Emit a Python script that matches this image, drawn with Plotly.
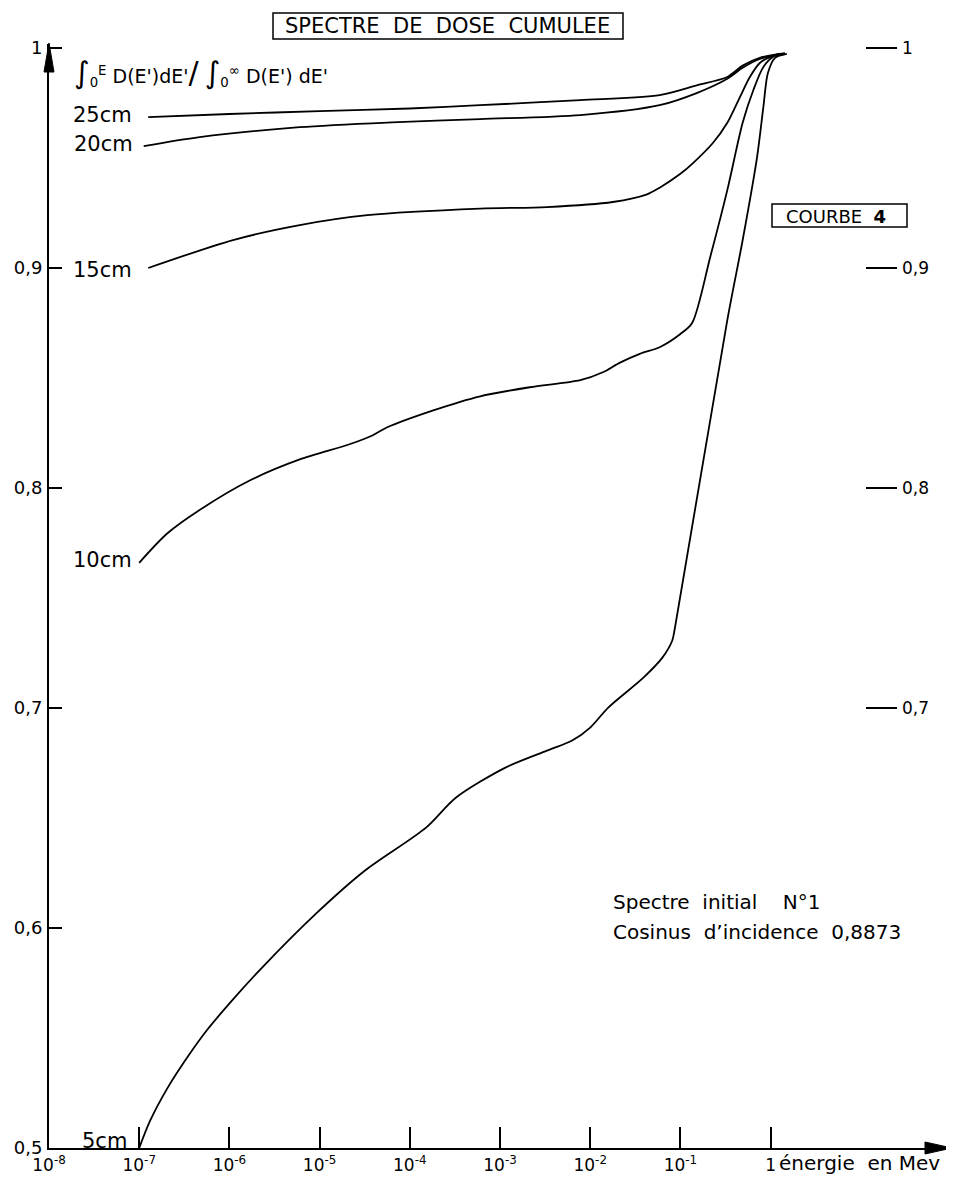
import numpy as np
import plotly.graph_objects as go

# ---- data (log10 of energy in MeV, cumulative dose fraction) ----
logE_25 = [-6.90, -6.0, -5.0, -4.0, -3.22, -2.11, -1.23, -0.82, -0.48, -0.31, -0.12, 0.05, 0.16]
val_25 = [0.9686, 0.9700, 0.9713, 0.9725, 0.9740, 0.9763, 0.9786, 0.9830, 0.9868, 0.9920, 0.9955, 0.9970, 0.9975]

logE_20 = [-6.95, -6.33, -5.22, -4.20, -3.22, -2.11, -1.23, -0.82, -0.48, -0.31, -0.12, 0.05, 0.16]
val_20 = [0.9554, 0.9595, 0.9640, 0.9662, 0.9677, 0.9695, 0.9740, 0.9795, 0.9860, 0.9910, 0.9950, 0.9968, 0.9975]

logE_15 = [-6.90, -5.96, -5.22, -4.47, -3.22, -2.48, -1.75, -1.37, -1.23, -1.0, -0.86, -0.64, -0.48,
           -0.34, -0.23, -0.12, 0.0, 0.16]
val_15 = [0.9000, 0.9127, 0.9195, 0.9240, 0.9270, 0.9277, 0.9300, 0.9335, 0.9365, 0.9428, 0.9477,
          0.9568, 0.9660, 0.9777, 0.9868, 0.9932, 0.9960, 0.9973]

logE_10 = [-7.0, -6.69, -6.33, -5.77, -5.22, -4.66, -4.41, -4.25, -3.74, -3.22, -2.67, -2.11, -1.86,
           -1.67, -1.45, -1.23, -1.0, -0.87, -0.67, -0.48, -0.31, -0.19, -0.08, 0.03, 0.16]
val_10 = [0.766, 0.7793, 0.790, 0.8035, 0.813, 0.820, 0.824, 0.8276, 0.8353, 0.8417, 0.8458, 0.849,
          0.8526, 0.857, 0.861, 0.864, 0.870, 0.875, 0.9049, 0.9354, 0.966, 0.981, 0.9914, 0.996, 0.9973]

logE_5 = [-7.0, -6.88, -6.69, -6.47, -6.25, -5.95, -5.64, -5.04, -4.50, -3.82, -3.49, -2.94, -2.48, -2.20,
          -2.0, -1.80, -1.41, -1.20, -1.09, -1.06, -0.48, -0.31, -0.15, -0.08, -0.03, 0.05, 0.18]
val_5 = [0.500, 0.5123, 0.527, 0.541, 0.5535, 0.568, 0.5819, 0.6065, 0.626, 0.6456, 0.6592, 0.6729, 0.6806,
         0.6852, 0.6911, 0.7002, 0.7138, 0.7229, 0.7307, 0.7366, 0.8763, 0.9126, 0.9504, 0.9732, 0.9886,
         0.9955, 0.9973]

curve_names = ["25cm", "20cm", "15cm", "10cm", "5cm"]
curve_logE = [logE_25, logE_20, logE_15, logE_10, logE_5]
curve_vals = [val_25, val_20, val_15, val_10, val_5]
label_yshift = [2, 2, -2, 3, 7]
label_xshift = [-14, -9, -14, -5, -10]

x_tick_exp = [-8, -7, -6, -5, -4, -3, -2, -1, 0]
x_tick_text = ["10<sup>-8</sup>", "10<sup>-7</sup>", "10<sup>-6</sup>", "10<sup>-5</sup>",
               "10<sup>-4</sup>", "10<sup>-3</sup>", "10<sup>-2</sup>", "10<sup>-1</sup>", "1"]
y_tick_vals = [0.5, 0.6, 0.7, 0.8, 0.9, 1.0]
y_tick_text = ["0,5", "0,6", "0,7", "0,8", "0,9", "1"]
y2_tick_vals = [0.7, 0.8, 0.9, 1.0]
y2_tick_text = ["0,7", "0,8", "0,9", "1"]

FONT = "DejaVu Sans"
OFF = 8  # default page body margin
W, H = 954 - OFF, 1181 - OFF
ML, MR, MT, MB = 49 - OFF, 2, 44 - OFF, 33
PW, PH = W - ML - MR, H - MT - MB


def px(xp):
    return (xp - 49) / PW


def py(yp):
    return (1148 - yp) / PH


fig = go.Figure()

for name, le, v, ys, xs in zip(curve_names, curve_logE, curve_vals, label_yshift, label_xshift):
    fig.add_trace(go.Scatter(
        x=10 ** np.array(le), y=v, mode="lines", name=name,
        line=dict(color="black", width=1.8, shape="spline", smoothing=0.8),
        showlegend=False, hoverinfo="skip"))
    fig.add_annotation(x=le[0], y=v[0], xref="x", yref="y", text=name, showarrow=False,
                       xanchor="right", yanchor="middle", xshift=xs, yshift=ys,
                       font=dict(family=FONT, size=21, color="black"))

# invisible trace for the right-hand scale
fig.add_trace(go.Scatter(x=[1e-8], y=[0.5], yaxis="y2", mode="markers",
                         marker=dict(opacity=0), showlegend=False, hoverinfo="skip"))

y_range = [0.5, 0.5 + PH / 2200]
x_range = [-8, -8 + PW / 90.2]

fig.update_layout(
    width=W, height=H,
    margin=dict(l=ML, r=MR, t=MT, b=MB),
    paper_bgcolor="white", plot_bgcolor="white",
    font=dict(family=FONT, color="black"),
    xaxis=dict(type="log", range=x_range, showgrid=False, zeroline=False,
               showline=True, linecolor="black", linewidth=2,
               ticks="inside", ticklen=21, tickwidth=2, tickcolor="black",
               tickvals=[10.0 ** e for e in x_tick_exp], ticktext=x_tick_text,
               tickfont=dict(family=FONT, size=17), ticklabelstandoff=1, automargin=False),
    yaxis=dict(range=y_range, showgrid=False, zeroline=False,
               showline=True, linecolor="black", linewidth=2,
               ticks="inside", ticklen=13, tickwidth=2, tickcolor="black",
               tickvals=y_tick_vals, ticktext=y_tick_text,
               tickfont=dict(family=FONT, size=18), ticklabelstandoff=1, automargin=False),
    yaxis2=dict(range=y_range, overlaying="y", side="right", anchor="free",
                position=px(897), showgrid=False, zeroline=False, showline=False,
                ticks="inside", ticklen=31, tickwidth=1.5, tickcolor="black",
                tickvals=y2_tick_vals, ticktext=y2_tick_text,
                tickfont=dict(family=FONT, size=17), ticklabelstandoff=4, automargin=False),
)

shapes = []
# axis arrowheads
shapes.append(dict(type="path", xref="paper", yref="paper",
                   path=f"M {px(952)} {py(1148)} L {px(925)} {py(1142)} L {px(925)} {py(1154)} Z",
                   fillcolor="black", line=dict(color="black", width=1)))
shapes.append(dict(type="path", xref="paper", yref="paper",
                   path=f"M {px(49)} {py(43)} L {px(44)} {py(72)} L {px(54)} {py(72)} Z",
                   fillcolor="black", line=dict(color="black", width=1)))
# title box
shapes.append(dict(type="rect", xref="paper", yref="paper",
                   x0=px(273), x1=px(623), y0=py(39), y1=py(13),
                   line=dict(color="black", width=1.5), fillcolor="rgba(0,0,0,0)"))
# COURBE 4 box
shapes.append(dict(type="rect", xref="paper", yref="paper",
                   x0=px(772), x1=px(907), y0=py(227), y1=py(204),
                   line=dict(color="black", width=1.5), fillcolor="rgba(0,0,0,0)"))
fig.update_layout(shapes=shapes)

ann = [
    dict(x=px(447), y=py(26), text="SPECTRE  DE  DOSE  CUMULEE", size=21, xanchor="center"),
    dict(x=px(836), y=py(216), text="COURBE  <b>4</b>", size=18, xanchor="center"),
    dict(x=px(72), y=py(72),
         text="<span style='font-size:30px'>∫</span><sub>0</sub><sup>E</sup> D(E')dE'"
              "<span style='font-size:30px'>/</span> "
              "<span style='font-size:30px'>∫</span><sub>0</sub><sup>∞</sup> D(E') dE'",
         size=19, xanchor="left"),
    dict(x=px(777), y=py(1163), text="énergie  en Mev", size=20, xanchor="left"),
    dict(x=px(611), y=py(902), text="Spectre  initial    N°1", size=20, xanchor="left"),
    dict(x=px(611), y=py(932), text="Cosinus  d’incidence  0,8873", size=20, xanchor="left"),
]
for a in ann:
    fig.add_annotation(x=a["x"], y=a["y"], xref="paper", yref="paper", text=a["text"],
                       showarrow=False, xanchor=a["xanchor"], yanchor="middle",
                       font=dict(family=FONT, size=a["size"], color="black"))

fig.write_html("out.html")
